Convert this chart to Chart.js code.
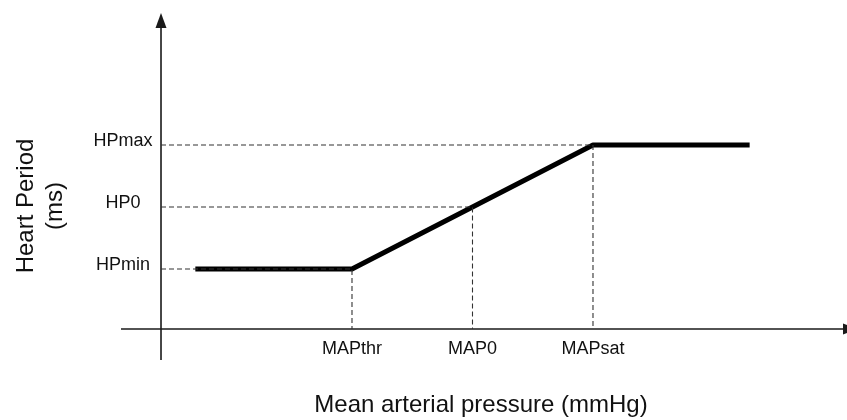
<!DOCTYPE html>
<html>
<head>
<meta charset="utf-8">
<script src="https://cdn.jsdelivr.net/npm/chart.js@4/dist/chart.umd.min.js"></script>
<style>
    body { margin: 0; background: #ffffff; }
    #grafica { display: block; }
</style>
</head>
<body>
<canvas id="grafica" width="847" height="420"></canvas>
<script>
// etiquetas y valores de los ejes (unidades arbitrarias)
const etiquetasMAP = ["MAPthr", "MAP0", "MAPsat"];
const valoresMAP = [80, 100, 120];
const etiquetasHP = ["HPmin", "HP0", "HPmax"];
const valoresHP = [600, 800, 1000];

// curva del barorreflejo
const curvaX = [54, 80, 120, 146];
const curvaY = [600, 600, 1000, 1000];

// donde se cruzan los ejes
const ejeYEnX = 48.3;
const ejeXEnY = 406.5;

const tituloX = "Mean arterial pressure (mmHg)";
const tituloY = ["Heart Period", "(ms)"];

document.addEventListener("DOMContentLoaded", function () {
    generarGrafica();
});

// lineas punteadas hacia los ejes
function construirGuias() {
    const guias = [];
    valoresMAP.forEach((mapValor, i) => {
        const hpValor = valoresHP[i];
        guias.push({
            data: [{ x: ejeYEnX, y: hpValor }, { x: mapValor, y: hpValor }, { x: mapValor, y: ejeXEnY }],
            borderColor: "#333333",
            borderWidth: 1.1,
            borderDash: [5, 3],
            pointRadius: 0,
            fill: false
        });
    });
    return guias;
}

// dibuja ejes con flechas, etiquetas y titulos
const pluginEjes = {
    id: "ejes",
    beforeDatasetsDraw(chart) {
        const ctx = chart.ctx;
        const x = chart.scales.x;
        const y = chart.scales.y;
        const px = x.getPixelForValue(ejeYEnX);
        const py = y.getPixelForValue(ejeXEnY);

        ctx.save();
        ctx.strokeStyle = "#1a1a1a";
        ctx.fillStyle = "#1a1a1a";
        ctx.lineWidth = 1.6;

        // eje y
        ctx.beginPath();
        ctx.moveTo(px, chart.chartArea.bottom);
        ctx.lineTo(px, chart.chartArea.top + 6);
        ctx.stroke();
        ctx.beginPath();
        ctx.moveTo(px, chart.chartArea.top - 2);
        ctx.lineTo(px - 5.5, chart.chartArea.top + 13);
        ctx.lineTo(px + 5.5, chart.chartArea.top + 13);
        ctx.closePath();
        ctx.fill();

        // eje x
        ctx.beginPath();
        ctx.moveTo(chart.chartArea.left, py);
        ctx.lineTo(chart.chartArea.right - 4, py);
        ctx.stroke();
        ctx.beginPath();
        ctx.moveTo(chart.chartArea.right - 4, py - 5.5);
        ctx.lineTo(chart.chartArea.right + 10, py);
        ctx.lineTo(chart.chartArea.right - 4, py + 5.5);
        ctx.closePath();
        ctx.fill();
        ctx.restore();
    },
    afterDraw(chart) {
        const ctx = chart.ctx;
        const x = chart.scales.x;
        const y = chart.scales.y;
        const py = y.getPixelForValue(ejeXEnY);
        const fuente = "'Liberation Sans', Arial, sans-serif";

        ctx.save();
        ctx.fillStyle = "#111111";
        ctx.textBaseline = "middle";
        ctx.textAlign = "center";
        ctx.font = "18px " + fuente;

        // etiquetas del eje x
        etiquetasMAP.forEach((texto, i) => {
            ctx.fillText(texto, x.getPixelForValue(valoresMAP[i]), py + 20);
        });

        // etiquetas del eje y
        etiquetasHP.forEach((texto, i) => {
            ctx.fillText(texto, 123, y.getPixelForValue(valoresHP[i]) - 4);
        });

        // titulos
        ctx.font = "24px " + fuente;
        ctx.textBaseline = "alphabetic";
        ctx.fillText(tituloX, 481, 412);

        ctx.translate(0, 206);
        ctx.rotate(-Math.PI / 2);
        ctx.fillText(tituloY[0], 0, 33);
        ctx.fillText(tituloY[1], 0, 62);
        ctx.restore();
    }
};

function generarGrafica() {
    const canvas = document.getElementById("grafica");

    const curva = {
        data: curvaX.map((v, i) => ({ x: v, y: curvaY[i] })),
        borderColor: "#000000",
        borderWidth: 5,
        borderCapStyle: "butt",
        borderJoinStyle: "round",
        pointRadius: 0,
        fill: false
    };

    new Chart(canvas, {
        type: "line",
        data: { datasets: construirGuias().concat([curva]) },
        options: {
            responsive: false,
            animation: false,
            devicePixelRatio: 1,
            layout: { padding: { left: 121, right: 0, top: 15, bottom: 60 } },
            plugins: {
                legend: { display: false },
                tooltip: { enabled: false }
            },
            scales: {
                x: { type: "linear", min: 41.66, max: 162.16, display: false },
                y: { type: "linear", min: 306.5, max: 1419.4, display: false }
            }
        },
        plugins: [pluginEjes]
    });
}
</script>
</body>
</html>
